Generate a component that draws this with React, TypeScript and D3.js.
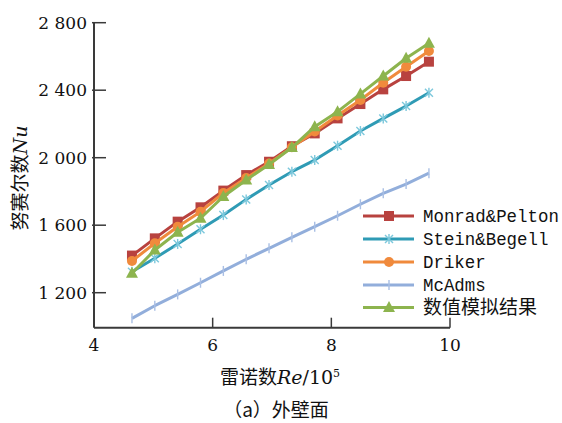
import React from "react";
import * as d3 from "d3";

const reValues = [4.64, 5.025, 5.41, 5.795, 6.18, 6.565, 6.95, 7.335, 7.72, 8.105, 8.49, 8.875, 9.26, 9.645];
const monrad = [1420, 1522, 1621, 1706, 1805, 1897, 1976, 2068, 2144, 2233, 2318, 2405, 2484, 2569];
const stein = [1324, 1404, 1489, 1576, 1660, 1753, 1838, 1917, 1986, 2071, 2158, 2233, 2306, 2385];
const driker = [1388, 1493, 1591, 1680, 1791, 1880, 1966, 2062, 2155, 2250, 2342, 2444, 2539, 2632];
const mcadms = [1048, 1123, 1190, 1259, 1329, 1398, 1463, 1528, 1591, 1656, 1724, 1789, 1844, 1908];
const simulation = [1315, 1453, 1558, 1641, 1770, 1868, 1960, 2060, 2184, 2273, 2378, 2484, 2589, 2678];

const seriesNames = ["Monrad&Pelton", "Stein&Begell", "Driker", "McAdms", "数值模拟结果"];
const xTicks = [4, 6, 8, 10];
const yTicks = [1200, 1600, 2000, 2400, 2800];
const yTickLabels = ["1 200", "1 600", "2 000", "2 400", "2 800"];

type S = { name: string; values: number[]; color: string; marker: string };
const series: S[] = [
  { name: seriesNames[0], values: monrad, color: "#B8423F", marker: "square" },
  { name: seriesNames[1], values: stein, color: "#2F9BB5", marker: "star" },
  { name: seriesNames[2], values: driker, color: "#F08A3C", marker: "circle" },
  { name: seriesNames[3], values: mcadms, color: "#92AEDB", marker: "plus" },
  { name: seriesNames[4], values: simulation, color: "#8DB44E", marker: "triangle" },
];
// draw order (back to front)
const drawOrder = [3, 1, 0, 2, 4];

const W = 562, H = 423;
const x = d3.scaleLinear().domain([4, 10]).range([94, 450]);
const y = d3.scaleLinear().domain([992.6, 2800]).range([327.7, 22.7]);

function Marker({ kind, cx, cy, color }: { kind: string; cx: number; cy: number; color: string }) {
  if (kind === "square") return <rect x={cx - 5} y={cy - 5} width={10} height={10} fill={color} />;
  if (kind === "circle") return <circle cx={cx} cy={cy} r={5} fill={color} />;
  if (kind === "triangle") {
    const p = d3.path();
    p.moveTo(cx, cy - 6.5); p.lineTo(cx + 6, cy + 4.5); p.lineTo(cx - 6, cy + 4.5); p.closePath();
    return <path d={p.toString()} fill={color} />;
  }
  if (kind === "star") {
    const c = "#7CC8DC";
    return (
      <g stroke={c} strokeWidth={1.4}>
        <line x1={cx - 4} y1={cy - 4} x2={cx + 4} y2={cy + 4} />
        <line x1={cx - 4} y1={cy + 4} x2={cx + 4} y2={cy - 4} />
        <line x1={cx} y1={cy - 5} x2={cx} y2={cy + 5} />
      </g>
    );
  }
  if (kind === "plus") {
    return <line x1={cx} y1={cy - 5} x2={cx} y2={cy + 5} stroke="#A9BFE4" strokeWidth={1.4} />;
  }
  return null;
}

export default function App() {
  const line = d3.line<number>().x((_, i) => x(reValues[i])).y((d) => y(d));
  const serif = "'DejaVu Serif', 'Liberation Serif', serif";
  const cjk = "'Noto Sans CJK SC', sans-serif";
  const mono = "'Liberation Mono', 'DejaVu Sans Mono', monospace";
  const legendY = [216, 239, 262, 285, 307.5];
  return (
    <svg width={W} height={H} style={{ position: "absolute", left: 0, top: 0, background: "#fff" }}>
      {/* axes */}
      <line x1={x(4)} y1={y(2800)} x2={x(4)} y2={y(992.6)} stroke="#3a3a3a" strokeWidth={2} />
      <line x1={x(4)} y1={y(992.6)} x2={x(10)} y2={y(992.6)} stroke="#3a3a3a" strokeWidth={2} />
      {yTicks.map((t, i) => (
        <g key={t}>
          <line x1={x(4) - 2} x2={x(4) + 12} y1={y(t)} y2={y(t)} stroke="#3a3a3a" strokeWidth={1.5} />
          <text x={87} y={y(t)} dy="0.36em" textAnchor="end" fontFamily={serif} fontSize={17} fill="#111">
            {yTickLabels[i]}
          </text>
        </g>
      ))}
      {xTicks.map((t) => (
        <g key={t}>
          {t !== 4 && (
            <line x1={x(t)} x2={x(t)} y1={y(992.6)} y2={y(992.6) - 10} stroke="#3a3a3a" strokeWidth={1.5} />
          )}
          <text x={x(t)} y={345} dy="0.36em" textAnchor="middle" fontFamily={serif} fontSize={17} fill="#111">
            {t}
          </text>
        </g>
      ))}
      {/* series */}
      {drawOrder.map((k) => {
        const s = series[k];
        return (
          <g key={s.name}>
            <path d={line(s.values) || ""} fill="none" stroke={s.color} strokeWidth={3} strokeLinejoin="round" />
            {s.values.map((v, i) => (
              <Marker key={i} kind={s.marker} cx={x(reValues[i])} cy={y(v)} color={s.color} />
            ))}
          </g>
        );
      })}
      {/* legend */}
      {series.map((s, i) => (
        <g key={s.name}>
          <line x1={363} x2={414} y1={legendY[i]} y2={legendY[i]} stroke={s.color} strokeWidth={3} />
          <Marker kind={s.marker} cx={389} cy={legendY[i]} color={s.color} />
          {i < 4 ? (
            <text x={423} y={legendY[i]} dy="0.35em" fontFamily={mono} fontSize={18}
              textLength={s.name.length * 10.45} lengthAdjust="spacingAndGlyphs" fill="#111">
              {s.name}
            </text>
          ) : (
            <text x={423} y={legendY[i]} dy="0.36em" fontFamily={cjk} fontSize={19} fill="#111">
              {s.name}
            </text>
          )}
        </g>
      ))}
      {/* axis titles */}
      <text transform="translate(20,178) rotate(-90)" textAnchor="middle" fontSize={19} fill="#111" dy="0.35em">
        <tspan fontFamily={cjk}>努赛尔数</tspan>
        <tspan fontFamily={serif} fontStyle="italic">Nu</tspan>
      </text>
      <text x={280} y={377} textAnchor="middle" fontSize={19} fill="#111" dy="0.35em">
        <tspan fontFamily={cjk}>雷诺数</tspan>
        <tspan fontFamily={serif} fontStyle="italic">Re</tspan>
        <tspan fontFamily={serif}>/10</tspan>
        <tspan fontFamily={serif} fontSize={11} dy="-0.6em">5</tspan>
      </text>
      <text x={276} y={410} textAnchor="middle" fontSize={19} fill="#111" dy="0.35em" fontFamily={cjk}>
        （a）外壁面
      </text>
    </svg>
  );
}
